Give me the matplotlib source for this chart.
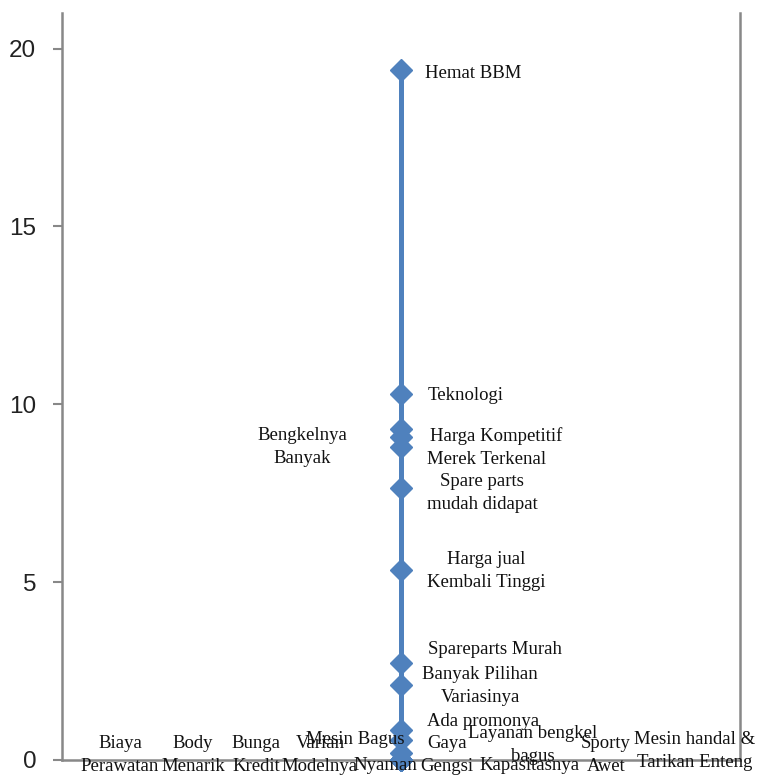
import numpy as np
import matplotlib.pyplot as plt

# attribute names and scores (all points sit on one vertical line)
labels = ["Hemat BBM", "Teknologi", "Bengkelnya\nBanyak", "Harga Kompetitif",
          "Merek Terkenal", "Spare parts\nmudah didapat", "Harga jual\nKembali Tinggi",
          "Spareparts Murah", "Banyak Pilihan\nVariasinya", "Ada promonya",
          "Mesin Bagus", "Gaya\nGengsi", "Layanan bengkel\nbagus", "Nyaman",
          "Kapasitasnya", "Sporty\nAwet", "Mesin handal &\nTarikan Enteng",
          "Biaya\nPerawatan", "Body\nMenarik", "Bunga\nKredit", "Varian\nModelnya"]
values = [19.4, 10.3, 9.3, 9.07, 8.8, 7.65, 5.35, 2.73, 2.11, 0.85,
          0.56, 0.2, 0.0, 0.0, 0.0, 0.0, 0.0, 0.0, 0.0, 0.0, 0.0]
yticks = [0, 5, 10, 15, 20]

# label placement in figure pixels: (x, y from top, horizontal alignment)
label_pos = [(425, 73, "left"), (428, 395, "left"), (302, 447, "center"),
             (430, 436, "left"), (427, 459, "left"), (482, 493, "center"),
             (486, 571, "center"), (428, 650, "left"), (480, 686, "center"),
             (427, 722, "left"), (355, 739, "center"), (447, 755, "center"),
             (533, 745, "center"), (385, 766, "center"), (530, 766, "center"),
             (606, 755, "center"), (695, 751, "center"), (120, 755, "center"),
             (193, 755, "center"), (256, 755, "center"), (320, 755, "center")]

W, H = 758, 776
fig = plt.figure(figsize=(W / 100, H / 100), dpi=100)
ax = fig.add_axes([62 / W, 16 / H, (740 - 62) / W, (760 - 13) / H])

x = np.full(len(values), 0.5)
ax.plot(x, values, color="#4F81BD", lw=3.6, marker="D", ms=11,
        markeredgecolor="#4F81BD", clip_on=False, zorder=3)

ax.set_xlim(0, 1)
ax.set_ylim(0, 21)
ax.set_xticks([])
ax.set_yticks(yticks)
ax.tick_params(axis="y", direction="out", length=6.5, width=1.5, color="#888888",
               pad=12, labelsize=17.5, labelcolor="#222222")
for lab in ax.get_yticklabels():
    lab.set_fontfamily("Liberation Sans")

ax.spines["top"].set_visible(False)
for s in ["left", "right", "bottom"]:
    ax.spines[s].set_color("#888888")
    ax.spines[s].set_linewidth(1.8)

for text, (px, py, ha) in zip(labels, label_pos):
    fig.text(px / W, 1 - py / H, text, ha=ha, va="center", ma="center",
             fontsize=13.5, family="Liberation Serif", color="#111111",
             linespacing=1.45)

fig.savefig("out.png", dpi=100)
